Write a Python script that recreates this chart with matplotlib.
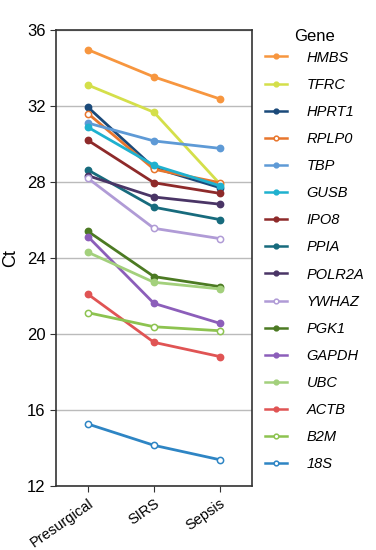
import matplotlib
matplotlib.use("Agg")
import matplotlib.pyplot as plt

plt.rcParams['font.family'] = ['Liberation Sans', 'DejaVu Sans']

stages = ["Presurgical", "SIRS", "Sepsis"]
genes = ["HMBS", "TFRC", "HPRT1", "RPLP0", "TBP", "GUSB", "IPO8", "PPIA",
         "POLR2A", "YWHAZ", "PGK1", "GAPDH", "UBC", "ACTB", "B2M", "18S"]
values = {
    "HMBS":   [34.96, 33.53, 32.37],
    "TFRC":   [33.10, 31.67, 27.90],
    "HPRT1":  [31.93, 28.75, 27.70],
    "RPLP0":  [31.60, 28.67, 27.96],
    "TBP":    [31.10, 30.16, 29.77],
    "GUSB":   [30.88, 28.88, 27.80],
    "IPO8":   [30.19, 27.96, 27.40],
    "PPIA":   [28.63, 26.67, 26.02],
    "POLR2A": [28.33, 27.21, 26.83],
    "YWHAZ":  [28.19, 25.56, 25.02],
    "PGK1":   [25.40, 23.02, 22.49],
    "GAPDH":  [25.12, 21.61, 20.56],
    "UBC":    [24.30, 22.72, 22.37],
    "ACTB":   [22.09, 19.56, 18.81],
    "B2M":    [21.12, 20.38, 20.17],
    "18S":    [15.26, 14.14, 13.38],
}
colors = {
    "HMBS": "#F7963F", "TFRC": "#D4DF4A", "HPRT1": "#1B4A7A", "RPLP0": "#E8762D",
    "TBP": "#5E9AD6", "GUSB": "#1FB1CF", "IPO8": "#8E2A2A", "PPIA": "#176B7D",
    "POLR2A": "#4A3566", "YWHAZ": "#B09BD6", "PGK1": "#4C7A23", "GAPDH": "#8C5EBA",
    "UBC": "#A3D07C", "ACTB": "#E05454", "B2M": "#8DC350", "18S": "#2E85C4",
}
open_markers = {"RPLP0", "YWHAZ", "B2M", "18S"}
yticks = [12, 16, 20, 24, 28, 32, 36]

fig = plt.figure(figsize=(3.76, 5.5), dpi=100)
ax = fig.add_axes([0.149, 0.1164, 0.521, 0.8291])

x = list(range(len(stages)))
handles = []
for g in genes:
    c = colors[g]
    mfc = "white" if g in open_markers else c
    h, = ax.plot(x, values[g], color=c, lw=2.0, marker="o", ms=4.5,
                 mfc=mfc, mec=c, mew=1.1, label=g, zorder=3)
    handles.append(h)

ax.set_xlim(-0.485, 2.485)
ax.set_ylim(12, 36)
ax.set_yticks(yticks)
ax.set_yticklabels([str(t) for t in yticks], fontsize=12)
ax.set_xticks(x)
ax.set_xticklabels(stages, rotation=35, ha="right", rotation_mode="anchor", fontsize=10.5)
ax.yaxis.grid(True, color="#BBBBBB", lw=1)
ax.set_axisbelow(True)
for s in ax.spines.values():
    s.set_color("#333333")
    s.set_linewidth(1.2)
ax.tick_params(axis="both", length=4, color="#333333")
ax.set_ylabel("Ct", fontsize=13, labelpad=6)

leg = fig.legend(handles=handles, labels=genes, loc="upper left",
                 bbox_to_anchor=(0.705, 0.948), frameon=False, title="Gene",
                 title_fontsize=12, prop={"style": "italic", "size": 10.5},
                 handlelength=1.5, handletextpad=1.35, labelspacing=0.9,
                 markerscale=0.75, borderpad=0, borderaxespad=0)
leg._legend_box.align = "center"
leg._legend_box.sep = 5
for line in leg.get_lines():
    line.set_linewidth(1.8)

fig.savefig("out.png", dpi=100)
